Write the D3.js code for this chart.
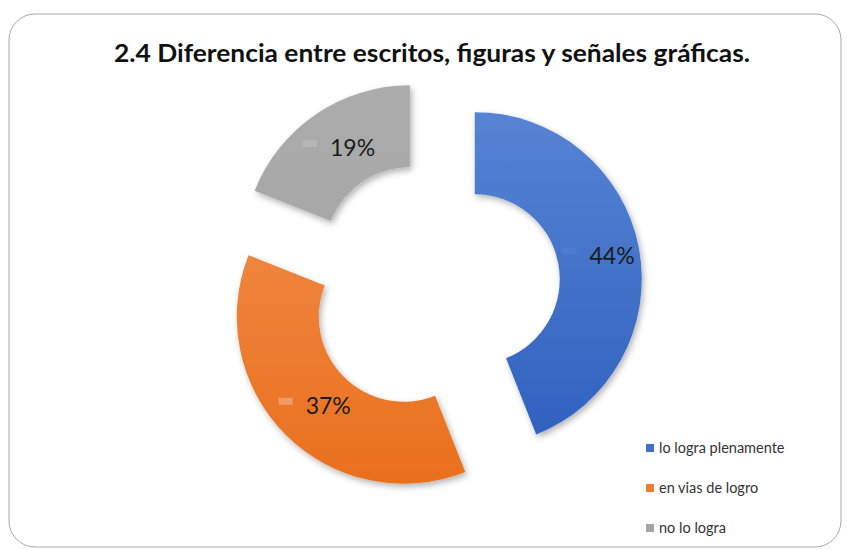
<!DOCTYPE html>
<html>
<head>
<meta charset="utf-8">
<script src="https://cdn.jsdelivr.net/npm/d3@7"></script>
<style>
  body { margin: 0; background: #fff; }
  svg { display: block; font-family: Lato, "Open Sans", sans-serif; }
</style>
</head>
<body>
<svg id="chart"></svg>
<script>
// chart data
const categories = ['lo logra plenamente', 'en vias de logro', 'no lo logra'];
const values = [44, 37, 19];
const labels = ['44%', '37%', '19%'];
const colorsTop = ['#5b88d6', '#f39150', '#adadad'];
const colorsBottom = ['#2a5cbd', '#e86c18', '#a0a0a0'];
const keyColors = ['#4f7fd0', '#f5a070', '#b8b8b8'];
const legendColors = ['#4472c4', '#ed7d31', '#a5a5a5'];

const width = 847, height = 550;
const cx = 433.5, cy = 287;
const outerR = 167, innerR = 85, explode = 42;

const svg = d3.select('#chart')
  .attr('width', width)
  .attr('height', height);

const defs = svg.append('defs');

const shadow = defs.append('filter')
  .attr('id', 'shadow')
  .attr('x', '-20%').attr('y', '-20%')
  .attr('width', '140%').attr('height', '140%');
shadow.append('feDropShadow')
  .attr('dx', 2).attr('dy', 3)
  .attr('stdDeviation', 3)
  .attr('flood-color', '#000')
  .attr('flood-opacity', 0.3);

// gradients in each slice's own (translated) space
categories.forEach((c, i) => {
  const g = defs.append('linearGradient')
    .attr('id', 'grad' + i)
    .attr('gradientUnits', 'userSpaceOnUse')
    .attr('x1', 0).attr('y1', -210)
    .attr('x2', 0).attr('y2', 210);
  g.append('stop').attr('offset', '0%').attr('stop-color', colorsTop[i]);
  g.append('stop').attr('offset', '100%').attr('stop-color', colorsBottom[i]);
});

// frame
svg.append('rect')
  .attr('x', 9).attr('y', 14)
  .attr('width', 832).attr('height', 533)
  .attr('rx', 26).attr('ry', 26)
  .attr('fill', '#fff')
  .attr('stroke', '#a8a8a8')
  .attr('stroke-width', 1);

svg.append('text')
  .attr('x', 432)
  .attr('y', 62)
  .attr('text-anchor', 'middle')
  .attr('font-size', 24)
  .attr('font-weight', 'bold')
  .attr('fill', '#111')
  .attr('textLength', 636)
  .attr('lengthAdjust', 'spacingAndGlyphs')
  .text('2.4 Diferencia entre escritos, figuras y señales gráficas.');

const pie = d3.pie().sort(null).value(d => d);
const arcs = pie(values);
const arc = d3.arc().innerRadius(innerR).outerRadius(outerR);
const labelArc = d3.arc().innerRadius((innerR + outerR) / 2).outerRadius((innerR + outerR) / 2);

const slices = svg.append('g')
  .attr('transform', `translate(${cx},${cy})`);

const slice = slices.selectAll('g.slice')
  .data(arcs)
  .join('g')
  .attr('class', 'slice')
  .attr('transform', d => {
    const a = (d.startAngle + d.endAngle) / 2;
    return `translate(${explode * Math.sin(a)},${-explode * Math.cos(a)})`;
  });

slice.append('path')
  .attr('d', arc)
  .attr('fill', (d, i) => `url(#grad${i})`)
  .attr('filter', 'url(#shadow)');

// data labels with legend key
slice.each(function(d, i) {
  const [lx, ly] = labelArc.centroid(d);
  const g = d3.select(this).append('g');
  const t = g.append('text')
    .attr('y', ly + 8)
    .attr('font-size', 23)
    .attr('fill', '#1b1b1b')
    .text(labels[i]);
  const tw = t.node().getComputedTextLength();
  const keyW = 14, gap = 13;
  const x0 = lx - (keyW + gap + tw) / 2;
  t.attr('x', x0 + keyW + gap);
  g.append('rect')
    .attr('x', x0).attr('y', ly - 8)
    .attr('width', keyW).attr('height', 7)
    .attr('fill', keyColors[i])
    .attr('opacity', 0.85);
});

// legend
const legend = svg.append('g')
  .attr('transform', 'translate(646,448)');

const item = legend.selectAll('g')
  .data(categories)
  .join('g')
  .attr('transform', (d, i) => `translate(0,${i * 40})`);

item.append('rect')
  .attr('x', 0).attr('y', -4)
  .attr('width', 8).attr('height', 8)
  .attr('fill', (d, i) => legendColors[i]);

item.append('text')
  .attr('x', 13)
  .attr('y', 5)
  .attr('font-size', 14.5)
  .attr('fill', '#333')
  .text(d => d);
</script>
</body>
</html>
